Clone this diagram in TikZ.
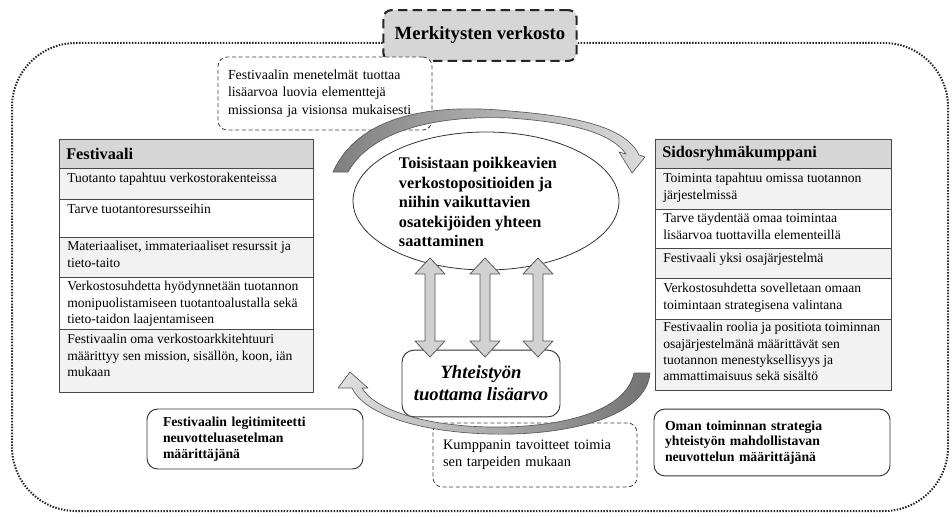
\documentclass[tikz,border=0pt]{standalone}
\usepackage{fontspec}
\setmainfont{Liberation Serif}
\usetikzlibrary{shapes.geometric}
\begin{document}
\begin{tikzpicture}[x=0.75pt,y=-0.75pt,line join=round,
  cell/.style={draw=black!72,line width=0.6pt},
  hdrfill/.style={fill=black!16},
  lightfill/.style={fill=black!5},
  whitefill/.style={fill=white},
  hdrtxt/.style={anchor=west,inner sep=0pt,font=\fontsize{12.2}{14}\selectfont\bfseries},
  rowtxt/.style={anchor=north west,inner sep=0pt,align=left,font=\fontsize{10.2}{12.3}\selectfont},
  notebox/.style={draw=black!75,dash pattern=on 3pt off 2pt,rounded corners=7pt,line width=0.6pt,fill=white,align=left,font=\fontsize{10.8}{13}\selectfont,inner ysep=0pt},
  boldbox/.style={draw=black!80,rounded corners=8pt,line width=0.7pt,fill=white,align=left,font=\fontsize{10.3}{11.8}\selectfont\bfseries,inner ysep=0pt},
  dblarrow/.style={draw=black!65,fill=black!18,line width=0.6pt},
  curvearrow/.style={draw=black!65,line width=0.5pt},
]
\useasboundingbox (0,0) rectangle (952,517);

% outer dotted frame
\draw[black!85,line width=1.5pt,dash pattern=on 1.1pt off 1.1pt,rounded corners=48pt] (12,43) rectangle (948,511);

% title
\node[draw=black!85,fill=black!16,line width=1.6pt,dash pattern=on 7pt off 4pt,rounded corners=6pt,
  minimum width=145pt,minimum height=38pt,inner sep=0pt,font=\fontsize{14}{16}\selectfont\bfseries]
  (title) at (480,35.5) {Merkitysten verkosto};

% top note
\node[notebox,font=\fontsize{10.4}{13}\selectfont,text width=145.5pt,inner xsep=7.5pt,minimum height=54.75pt] (note1) at (325,93.5)
  {Festivaalin menetelmät tuottaa\\lisäarvoa luovia elementtejä\\missionsa ja visionsa mukaisesti};

% left table
\path[cell,hdrfill] (59,139) rectangle (313,168);
\path[cell,lightfill] (59,168) rectangle (313,199);
\path[cell,whitefill] (59,199) rectangle (313,237);
\path[cell,lightfill] (59,237) rectangle (313,277);
\path[cell,whitefill] (59,277) rectangle (313,329);
\path[cell,lightfill] (59,329) rectangle (313,392);
\node[hdrtxt] (festh) at (66,154) {Festivaali};
\node[rowtxt] (fest1) at (67,173) {Tuotanto tapahtuu verkostorakenteissa};
\node[rowtxt] (fest2) at (67,204) {Tarve tuotantoresursseihin};
\node[rowtxt] (fest3) at (67,241) {Materiaaliset, immateriaaliset resurssit ja\\tieto-taito};
\node[rowtxt] (fest4) at (67,281) {Verkostosuhdetta hyödynnetään tuotannon\\monipuolistamiseen tuotantoalustalla sekä\\tieto-taidon laajentamiseen};
\node[rowtxt] (fest5) at (67,334) {Festivaalin oma verkostoarkkitehtuuri\\määrittyy sen mission, sisällön, koon, iän\\mukaan};

% right table
\path[cell,hdrfill] (655,139) rectangle (891,168);
\path[cell,lightfill] (655,168) rectangle (891,209);
\path[cell,whitefill] (655,209) rectangle (891,248);
\path[cell,lightfill] (655,248) rectangle (891,278);
\path[cell,whitefill] (655,278) rectangle (891,319);
\path[cell,lightfill] (655,319) rectangle (891,390);
\node[hdrtxt] (sidh) at (662,154) {Sidosryhmäkumppani};
\node[rowtxt] (sid1) at (663,173) {Toiminta tapahtuu omissa tuotannon\\järjestelmissä};
\node[rowtxt] (sid2) at (663,213) {Tarve täydentää omaa toimintaa\\lisäarvoa tuottavilla elementeillä};
\node[rowtxt] (sid3) at (663,253) {Festivaali yksi osajärjestelmä};
\node[rowtxt] (sid4) at (663,283) {Verkostosuhdetta sovelletaan omaan\\toimintaan strategisena valintana};
\node[rowtxt] (sid5) at (663,322) {Festivaalin roolia ja positiota toiminnan\\osajärjestelmänä määrittävät sen\\tuotannon menestyksellisyys ja\\ammattimaisuus sekä sisältö};

% ellipse
\node[draw=black!80,fill=white,ellipse,line width=0.6pt,minimum width=199.5pt,minimum height=103.5pt,inner sep=0pt] (ell) at (486,201) {};
\node[align=left,inner sep=0pt,font=\fontsize{12.2}{14.6}\selectfont\bfseries] (elltxt) at (478,202)
  {Toisistaan poikkeavien\\verkostopositioiden ja\\niihin vaikuttavien\\osatekijöiden yhteen\\saattaminen};

% value box
\node[draw=black!80,fill=white,rounded corners=9pt,line width=0.7pt,minimum width=118.5pt,minimum height=50pt,
  inner sep=0pt,align=center,font=\fontsize{14}{16.5}\selectfont\bfseries\itshape] (yht) at (481,383.5)
  {Yhteistyön\\tuottama lisäarvo};

% double arrows
\foreach \cx in {430,485,538}{
  \path[dblarrow] (\cx,258) -- ({\cx-15},274) -- ({\cx-5},274) -- ({\cx-5},341) -- ({\cx-15},341) -- (\cx,357)
    -- ({\cx+15},341) -- ({\cx+5},341) -- ({\cx+5},274) -- ({\cx+15},274) -- cycle;
}

% bottom note
\node[notebox,text width=138pt,inner xsep=7.5pt,minimum height=48pt] (note2) at (535,455)
  {Kumppanin tavoitteet toimia\\sen tarpeiden mukaan};

% bottom boxes
\node[boldbox,text width=138pt,inner xsep=12pt,minimum height=45pt] (legit) at (255,439)
  {Festivaalin legitimiteetti\\neuvotteluasetelman\\määrittäjänä};
\node[boldbox,text width=160.5pt,inner xsep=8.25pt,minimum height=50pt] (strat) at (772,442.5)
  {Oman toiminnan strategia\\yhteistyön mahdollistavan\\neuvottelun määrittäjänä};

% curved arrows
\path[curvearrow,left color=black!50,right color=black!14]
  (333,172) .. controls (358,116) and (430,103) .. (510,111)
  .. controls (570,116) and (625,125) .. (639,155)
  -- (645,157) -- (632,173) -- (619,152) -- (626,154)
  .. controls (610,131) and (565,122) .. (510,118)
  .. controls (440,115) and (372,129) .. (348,172) -- cycle;
\path[curvearrow,left color=black!12,right color=black!55]
  (650,373) .. controls (646,418) and (565,436) .. (490,434)
  .. controls (420,432) and (365,415) .. (352,388)
  -- (338,388) -- (350,372) -- (368,388) -- (362,388)
  .. controls (375,410) and (425,426) .. (490,427)
  .. controls (560,428) and (626,412) .. (634,373) -- cycle;
\end{tikzpicture}
\end{document}
